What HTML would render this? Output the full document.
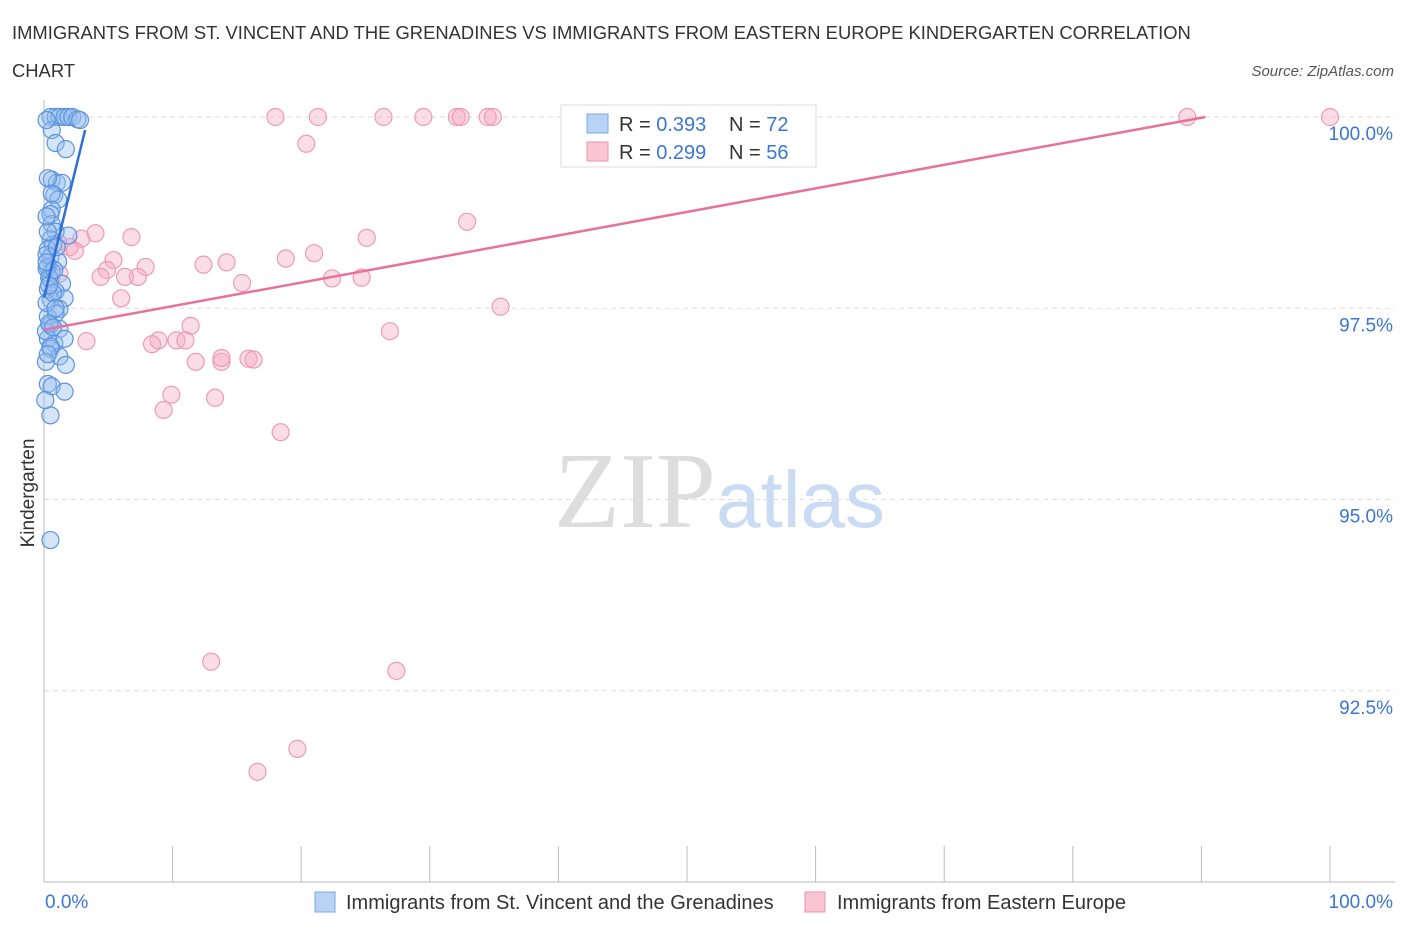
<!DOCTYPE html>
<html><head><meta charset="utf-8"><style>
body{margin:0;background:#fff;font-family:"Liberation Sans",sans-serif;}
</style></head><body>
<svg width="1406" height="930" xmlns="http://www.w3.org/2000/svg" id="chart">
<text x="12" y="39" font-size="18.4" fill="#333">IMMIGRANTS FROM ST. VINCENT AND THE GRENADINES VS IMMIGRANTS FROM EASTERN EUROPE KINDERGARTEN CORRELATION</text>
<text x="12" y="77" font-size="18.4" fill="#333">CHART</text>
<text x="1394" y="76" font-size="15" fill="#555" font-style="italic" text-anchor="end">Source: ZipAtlas.com</text>
<text x="716" y="527" font-size="108" fill="#ddd" text-anchor="end" font-family="Liberation Serif,serif">ZIP</text>
<text x="716" y="527" font-size="80" fill="#c9dcf3">atlas</text>
<text x="34" y="493" font-size="19" fill="#333" text-anchor="middle" transform="rotate(-90 34 493)">Kindergarten</text>
<g id="grid"></g><g id="pts"></g><g id="lines"></g>
<rect x="561" y="105" width="255" height="62" fill="#fff" stroke="#ddd"/>
<rect x="587" y="114" width="21" height="19" fill="#b9d3f5" stroke="#7aa8e6"/>
<rect x="587" y="142" width="21" height="19" fill="#f9c4d3" stroke="#ec93ad"/>
<text x="619" y="131" font-size="20" fill="#333">R = <tspan fill="#3a76d6">0.393</tspan></text>
<text x="729" y="131" font-size="20" fill="#333">N = <tspan fill="#3a76d6">72</tspan></text>
<text x="619" y="159" font-size="20" fill="#333">R = <tspan fill="#3a76d6">0.299</tspan></text>
<text x="729" y="159" font-size="20" fill="#333">N = <tspan fill="#3a76d6">56</tspan></text>
<text x="45" y="908" font-size="19" fill="#3a76d6">0.0%</text>
<text x="1393" y="908" font-size="19" fill="#3a76d6" text-anchor="end">100.0%</text>
<rect x="315" y="892" width="20" height="20" fill="#b9d3f5" stroke="#7aa8e6"/>
<text x="346" y="909" font-size="20" fill="#333">Immigrants from St. Vincent and the Grenadines</text>
<rect x="805" y="892" width="20" height="20" fill="#f9c4d3" stroke="#ec93ad"/>
<text x="837" y="909" font-size="20" fill="#333">Immigrants from Eastern Europe</text>
</svg>
<script>
const yTicks=[100,97.5,95,92.5];
const yTickLabels=["100.0%","97.5%","95.0%","92.5%"];
const blueX=[0.5,0.9,1.2,1.6,1.9,2.2,2.6,2.8,0.6,0.9,1.7,0.6,1.0,1.4,0.8,1.1,0.6,0.5,0.6,0.9,1.9,0.5,0.7,0.3,0.5,1.1,0.3,0.6,0.5,1.4,0.3,0.9,1.6,0.5,1.2,0.3,0.9,0.5,1.2,0.3,0.8,1.6,0.5,1.2,1.7,0.3,0.6,1.6,0.5,0.5,0.2,0.2,0.2,0.15,0.15,0.1,0.2,0.4,0.3,0.7,0.4,0.2,0.8,0.5,0.3,1.0,0.4,0.6,0.2,0.9,0.3,0.7];
const blueY=[100,100,100,100,100,100,99.97,99.96,99.83,99.66,99.58,99.18,99.14,99.14,98.98,98.92,98.79,98.73,98.6,98.5,98.45,98.4,98.33,98.27,98.17,98.11,98.04,97.98,97.88,97.82,97.75,97.72,97.63,97.62,97.49,97.39,97.43,97.28,97.23,97.1,97.04,97.1,96.97,96.87,96.76,96.51,96.48,96.41,96.1,94.47,99.96,98.02,97.57,97.2,96.8,96.3,98.2,97.9,98.5,97.7,97.3,98.7,98.0,97.0,99.2,98.3,97.8,99.0,98.1,97.5,96.9,97.25];
const pinkX=[18.0,21.3,26.4,29.5,32.1,32.4,34.5,34.9,50.1,88.9,100,20.4,32.9,4.0,6.8,25.1,2.9,2.0,1.1,5.4,7.9,12.4,14.2,18.8,21.0,4.9,4.4,6.3,7.3,1.2,15.4,22.4,24.7,6.0,35.5,11.4,26.9,3.3,8.9,8.4,10.3,11.0,11.8,13.8,13.8,15.9,16.3,9.9,13.3,9.3,18.4,13.0,27.4,19.7,16.6,2.4];
const pinkY=[100,100,100,100,100,100,100,100,100,100,100,99.65,98.63,98.48,98.43,98.42,98.41,98.3,98.36,98.13,98.04,98.07,98.1,98.15,98.22,98.0,97.91,97.91,97.91,97.95,97.83,97.89,97.9,97.63,97.52,97.27,97.2,97.07,97.08,97.03,97.08,97.08,96.8,96.8,96.85,96.84,96.83,96.37,96.33,96.17,95.88,92.88,92.76,91.74,91.44,98.25];
const blueTrend=[[0,97.64],[3.2,99.83]];
const pinkTrend=[[0,97.22],[90.3,100]];
const X0=44,X1=1330,Y0=882,Y1=117;
const sx=v=>X0+(X1-X0)*v/100;
const sy=v=>Y0-(Y0-Y1)*(v-90)/10;
const NS="http://www.w3.org/2000/svg";
function mk(p,tag,at){const e=document.createElementNS(NS,tag);for(const k in at)e.setAttribute(k,at[k]);p.appendChild(e);return e;}
const g=document.getElementById('grid');
yTicks.forEach((t,i)=>{
 const l=mk(g,'line',{x1:X0,x2:1395,y1:sy(t),y2:sy(t),stroke:'#ddd','stroke-dasharray':'5,4'});
 
 
 const tx=mk(g,'text',{x:1393,y:sy(t)+23,'font-size':19,fill:'#3a76d6','text-anchor':'end'});
 tx.textContent=yTickLabels[i];
 
 
});
const ax=mk(g,'line',{x1:X0,x2:X0,y1:100,y2:Y0,stroke:'#bbb'});


const bx=mk(g,'line',{x1:X0,x2:X1+65,y1:Y0,y2:Y0,stroke:'#bbb'});


for(let i=0;i<=10;i++){const t=mk(g,'line',{x1:sx(i*10),x2:sx(i*10),y1:Y0,y2:Y0-36,stroke:'#bbb'});
 
 }
const P=document.getElementById('pts');
pinkX.forEach((x,i)=>{const c=mk(P,'circle',{cx:sx(x),cy:sy(pinkY[i]),r:8.5,fill:'rgba(246,170,195,0.4)',stroke:'#ee9ab4','stroke-width':1.2});
 
 });
blueX.forEach((x,i)=>{const c=mk(P,'circle',{cx:sx(x),cy:sy(blueY[i]),r:8.5,fill:'rgba(150,190,240,0.4)',stroke:'#5b93dc','stroke-width':1.2});
 
 });
const L=document.getElementById('lines');
const pl=mk(L,'line',{x1:sx(pinkTrend[0][0]),y1:sy(pinkTrend[0][1]),x2:sx(pinkTrend[1][0]),y2:sy(pinkTrend[1][1]),stroke:'#e8709a','stroke-width':2.5});


const bl=mk(L,'line',{x1:sx(blueTrend[0][0]),y1:sy(blueTrend[0][1]),x2:sx(blueTrend[1][0]),y2:sy(blueTrend[1][1]),stroke:'#2f6fd6','stroke-width':2.5});


</script>
</body></html>
